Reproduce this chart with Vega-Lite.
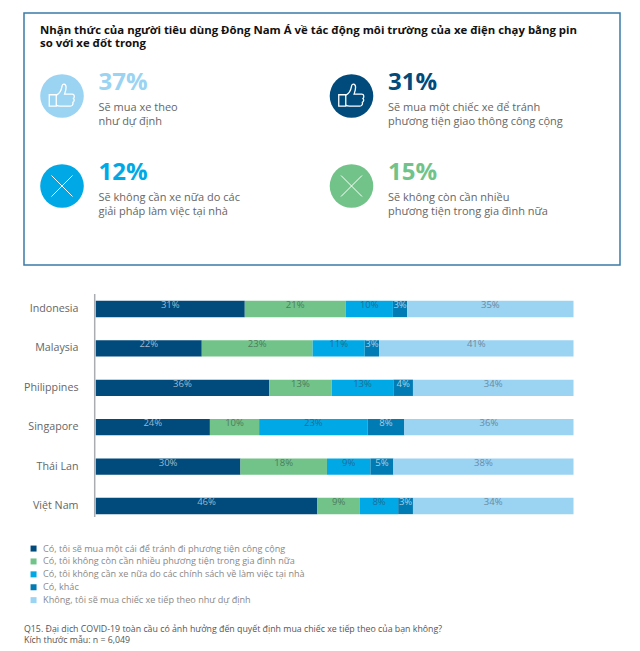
{
"$schema":"https://vega.github.io/schema/vega-lite/v6.json",
"padding":{"left":23,"top":12,"right":20,"bottom":6},
"background":"white",
"spacing":27,
"config":{"font":"Open Sans"},
"datasets":{
"kpi":[
{"col":"left","row":"top","kind":"plan","pct":"37%","note":"Sẽ mua xe theo\nnhư dự định"},
{"col":"right","row":"top","kind":"transit","pct":"31%","note":"Sẽ mua một chiếc xe để tránh\nphương tiện giao thông công cộng"},
{"col":"left","row":"bottom","kind":"wfh","pct":"12%","note":"Sẽ không cần xe nữa do các\ngiải pháp làm việc tại nhà"},
{"col":"right","row":"bottom","kind":"household","pct":"15%","note":"Sẽ không còn cần nhiều\nphương tiện trong gia đình nữa"}
],
"bars":[
{"country":"Indonesia","series":"Có, tôi sẽ mua một cái để tránh đi phương tiện công cộng","idx":1,"value":31.2,"label":"31%"},
{"country":"Indonesia","series":"Có, tôi không còn cần nhiều phương tiện trong gia đình nữa","idx":2,"value":21.1,"label":"21%"},
{"country":"Indonesia","series":"Có, tôi không cần xe nữa do các chính sách về làm việc tại nhà","idx":3,"value":9.9,"label":"10%"},
{"country":"Indonesia","series":"Có, khác","idx":4,"value":3.0,"label":"3%"},
{"country":"Indonesia","series":"Không, tôi sẽ mua chiếc xe tiếp theo như dự định","idx":5,"value":34.8,"label":"35%"},
{"country":"Malaysia","series":"Có, tôi sẽ mua một cái để tránh đi phương tiện công cộng","idx":1,"value":22.2,"label":"22%"},
{"country":"Malaysia","series":"Có, tôi không còn cần nhiều phương tiện trong gia đình nữa","idx":2,"value":23.2,"label":"23%"},
{"country":"Malaysia","series":"Có, tôi không cần xe nữa do các chính sách về làm việc tại nhà","idx":3,"value":10.9,"label":"11%"},
{"country":"Malaysia","series":"Có, khác","idx":4,"value":3.0,"label":"3%"},
{"country":"Malaysia","series":"Không, tôi sẽ mua chiếc xe tiếp theo như dự định","idx":5,"value":40.7,"label":"41%"},
{"country":"Philippines","series":"Có, tôi sẽ mua một cái để tránh đi phương tiện công cộng","idx":1,"value":36.3,"label":"36%"},
{"country":"Philippines","series":"Có, tôi không còn cần nhiều phương tiện trong gia đình nữa","idx":2,"value":13.1,"label":"13%"},
{"country":"Philippines","series":"Có, tôi không cần xe nữa do các chính sách về làm việc tại nhà","idx":3,"value":12.9,"label":"13%"},
{"country":"Philippines","series":"Có, khác","idx":4,"value":4.1,"label":"4%"},
{"country":"Philippines","series":"Không, tôi sẽ mua chiếc xe tiếp theo như dự định","idx":5,"value":33.6,"label":"34%"},
{"country":"Singapore","series":"Có, tôi sẽ mua một cái để tránh đi phương tiện công cộng","idx":1,"value":23.9,"label":"24%"},
{"country":"Singapore","series":"Có, tôi không còn cần nhiều phương tiện trong gia đình nữa","idx":2,"value":10.3,"label":"10%"},
{"country":"Singapore","series":"Có, tôi không cần xe nữa do các chính sách về làm việc tại nhà","idx":3,"value":22.7,"label":"23%"},
{"country":"Singapore","series":"Có, khác","idx":4,"value":7.7,"label":"8%"},
{"country":"Singapore","series":"Không, tôi sẽ mua chiếc xe tiếp theo như dự định","idx":5,"value":35.4,"label":"36%"},
{"country":"Thái Lan","series":"Có, tôi sẽ mua một cái để tránh đi phương tiện công cộng","idx":1,"value":30.3,"label":"30%"},
{"country":"Thái Lan","series":"Có, tôi không còn cần nhiều phương tiện trong gia đình nữa","idx":2,"value":18.1,"label":"18%"},
{"country":"Thái Lan","series":"Có, tôi không cần xe nữa do các chính sách về làm việc tại nhà","idx":3,"value":9.1,"label":"9%"},
{"country":"Thái Lan","series":"Có, khác","idx":4,"value":4.8,"label":"5%"},
{"country":"Thái Lan","series":"Không, tôi sẽ mua chiếc xe tiếp theo như dự định","idx":5,"value":37.7,"label":"38%"},
{"country":"Việt Nam","series":"Có, tôi sẽ mua một cái để tránh đi phương tiện công cộng","idx":1,"value":46.4,"label":"46%"},
{"country":"Việt Nam","series":"Có, tôi không còn cần nhiều phương tiện trong gia đình nữa","idx":2,"value":8.9,"label":"9%"},
{"country":"Việt Nam","series":"Có, tôi không cần xe nữa do các chính sách về làm việc tại nhà","idx":3,"value":8.0,"label":"8%"},
{"country":"Việt Nam","series":"Có, khác","idx":4,"value":3.1,"label":"3%"},
{"country":"Việt Nam","series":"Không, tôi sẽ mua chiếc xe tiếp theo như dự định","idx":5,"value":33.6,"label":"34%"}
]
},
"vconcat":[
{
"width":596,"height":252,
"view":{"stroke":"#3b7ba6","strokeWidth":1.5,"fill":"white"},
"data":{"name":"kpi"},
"encoding":{
"x":{"field":"col","type":"nominal","sort":["left","right"],"axis":null,"scale":{"type":"point","padding":0,"range":[38,327.5]}},
"y":{"field":"row","type":"nominal","sort":["head","top","bottom"],"axis":null,"scale":{"type":"point","padding":0,"domain":["head","top","bottom"],"range":[-7,173]}},
"color":{"field":"kind","type":"nominal","legend":null,"scale":{"domain":["plan","transit","wfh","household"],"range":["#9bd3f3","#004a7c","#00a9e6","#72c389"]}}
},
"layer":[
{"data":{"values":[{"col":"left","row":"head","heading":"Nhận thức của người tiêu dùng Đông Nam Á về tác động môi trường của xe điện chạy bằng pin\nso với xe đốt trong"}]},
"mark":{"type":"text","align":"left","baseline":"alphabetic","dx":-22,"dy":27.5,"font":"Open Sans","fontSize":11.4,"fontWeight":"bold","lineHeight":13.5,"lineBreak":"\n"},"encoding":{"text":{"field":"heading"},"color":{"value":"#111111"}}},
{"mark":{"type":"point","shape":"circle","filled":true,"size":1900,"opacity":1}},
{"transform":[{"filter":"datum.row==='top'"}],"mark":{"type":"point","shape":"M-1,-0.1H-0.45V0.8H-1Z M-0.45,-0.05 C-0.15,-0.2 -0.05,-0.45 0,-0.75 C0.02,-1 0.3,-1 0.32,-0.7 C0.33,-0.5 0.25,-0.3 0.2,-0.15 H0.8 C1,-0.15 1,0.1 0.9,0.2 C1,0.3 0.95,0.45 0.85,0.5 C0.9,0.65 0.8,0.8 0.65,0.8 H-0.15 C-0.3,0.8 -0.4,0.75 -0.45,0.7","filled":false,"size":650,"stroke":"white","strokeWidth":1.3,"opacity":1},"encoding":{"color":{"value":"white"}}},
{"transform":[{"filter":"datum.row==='bottom'"}],"mark":{"type":"point","shape":"M-1,-1L1,1M-1,1L1,-1","filled":false,"size":441,"strokeWidth":1,"opacity":1},"encoding":{"color":{"value":"white"}}},
{"mark":{"type":"text","align":"left","baseline":"alphabetic","dx":36.5,"dy":-6,"font":"Open Sans","fontSize":24,"fontWeight":"bold"},"encoding":{"text":{"field":"pct"}}},
{"mark":{"type":"text","align":"left","baseline":"alphabetic","dx":36.5,"dy":15,"font":"Open Sans","fontSize":11,"lineHeight":13.5,"lineBreak":"\n"},"encoding":{"text":{"field":"note"},"color":{"value":"#666666"}}}
]
},
{
"width":596,"height":223,
"view":{"stroke":null},
"data":{"name":"bars"},
"transform":[
{"stack":"value","groupby":["country"],"sort":[{"field":"idx"}],"as":["x0","x1"]},
{"calculate":"(datum.x0+datum.x1)/2","as":"mid"}
],
"layer":[
{"mark":{"type":"bar"},
"encoding":{
"y":{"field":"country","type":"nominal","sort":["Indonesia","Malaysia","Philippines","Singapore","Thái Lan","Việt Nam"],"title":null,
"scale":{"range":[2,225],"paddingInner":0.586,"paddingOuter":0.123},
"axis":{"orient":"left","offset":-54,"domain":false,"ticks":false,"labelPadding":0,"labelFont":"Open Sans","labelFontSize":10.7,"labelColor":"#666666","encode":{"labels":{"update":{"dx":{"signal":"datum.value==='Việt Nam'?5:0"}}}}}},
"x":{"field":"x0","type":"quantitative","title":null,"axis":null,"scale":{"domain":[0,100],"range":[71.7,549.5]}},
"x2":{"field":"x1"},
"color":{"field":"series","type":"nominal","sort":{"field":"idx"},"title":null,
"scale":{"domain":["Có, tôi sẽ mua một cái để tránh đi phương tiện công cộng","Có, tôi không còn cần nhiều phương tiện trong gia đình nữa","Có, tôi không cần xe nữa do các chính sách về làm việc tại nhà","Có, khác","Không, tôi sẽ mua chiếc xe tiếp theo như dự định"],"range":["#004a7c","#72c389","#00a9e6","#007bb3","#9bd3f3"]},
"legend":{"orient":"none","legendX":5,"legendY":250,"direction":"vertical","symbolType":"square","symbolSize":36,"symbolStrokeWidth":0,"labelFont":"Open Sans","labelFontSize":9.1,"labelColor":"#888888","labelLimit":400,"labelOffset":5,"rowPadding":2.9,"symbolOpacity":1,"title":null,"values":["Có, tôi sẽ mua một cái để tránh đi phương tiện công cộng","Có, tôi không còn cần nhiều phương tiện trong gia đình nữa","Có, tôi không cần xe nữa do các chính sách về làm việc tại nhà","Có, khác","Không, tôi sẽ mua chiếc xe tiếp theo như dự định"]}}
}},
{"mark":{"type":"text","align":"center","baseline":"middle","dy":-4,"font":"Open Sans","fontSize":9.5},
"encoding":{
"y":{"field":"country","type":"nominal","sort":["Indonesia","Malaysia","Philippines","Singapore","Thái Lan","Việt Nam"]},
"x":{"field":"mid","type":"quantitative","axis":null,"scale":{"domain":[0,100],"range":[71.7,549.5]}},
"text":{"field":"label"},
"color":{"field":"series","type":"nominal","legend":null,
"scale":{"domain":["Có, tôi sẽ mua một cái để tránh đi phương tiện công cộng","Có, tôi không còn cần nhiều phương tiện trong gia đình nữa","Có, tôi không cần xe nữa do các chính sách về làm việc tại nhà","Có, khác","Không, tôi sẽ mua chiếc xe tiếp theo như dự định"],"range":["#9fb7cb","#4c7d5e","#1c6f96","#a9cfe6","#6a8ba3"]}}
}},
{"data":{"values":[{"start":0}]},"mark":{"type":"rule","color":"#a9adb1","strokeWidth":1.5,"xOffset":-1},"encoding":{"x":{"field":"start","type":"quantitative","scale":{"domain":[0,100],"range":[71.7,549.5]}}}},
{"data":{"values":[{"country":"Việt Nam","footnote":"Q15. Đại dịch COVID-19 toàn cầu có ảnh hưởng đến quyết định mua chiếc xe tiếp theo của bạn không?\nKích thước mẫu: n = 6,049"}]},
"mark":{"type":"text","align":"left","baseline":"alphabetic","dx":-71.7,"dy":126,"font":"Open Sans","fontSize":8.8,"lineHeight":11,"lineBreak":"\n"},
"encoding":{"y":{"field":"country","type":"nominal","sort":["Indonesia","Malaysia","Philippines","Singapore","Thái Lan","Việt Nam"]},"x":{"datum":0,"type":"quantitative","scale":{"domain":[0,100],"range":[71.7,549.5]}},"text":{"field":"footnote"},"color":{"value":"#555555"}}}
],
"resolve":{"scale":{"color":"independent"}}
}
]
}
